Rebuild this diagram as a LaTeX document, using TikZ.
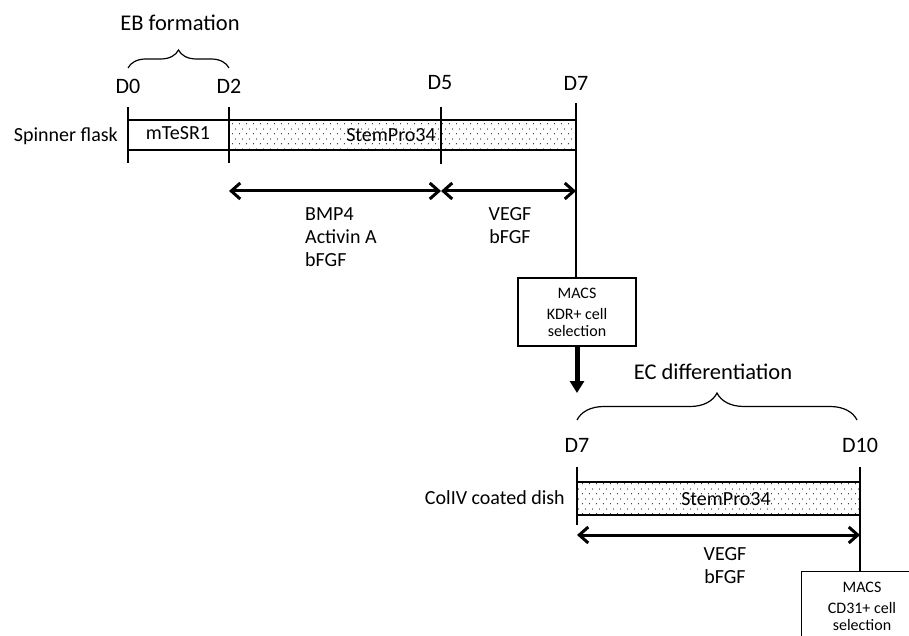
\documentclass[tikz,border=0pt]{standalone}
\usepackage{fontspec}
\setmainfont{Carlito}
\usetikzlibrary{arrows.meta,patterns.meta,decorations.pathreplacing}
\tikzdeclarepattern{
  name=sdots,
  type=uncolored,
  bounding box={(0pt,0pt) and (7pt,10pt)},
  tile size={(7pt,10pt)},
  code={\fill (1.75pt,2.5pt) circle (0.7pt); \fill (5.25pt,7.5pt) circle (0.7pt);}
}
\begin{document}
\begin{tikzpicture}[x=1pt,y=-1pt,
  lbl/.style={font=\fontsize{20}{23}\selectfont, inner sep=0pt},
  day/.style={font=\fontsize{22}{26}\selectfont, inner sep=0pt},
  ttl/.style={font=\fontsize{22.5}{27}\selectfont, inner sep=0pt},
  macs/.style={draw, line width=1.2pt, minimum width=118pt, minimum height=68pt, align=center, inner sep=0pt,
     font=\fontsize{16}{16.5}\selectfont},
  dbl/.style={line width=3pt, {Straight Barb[length=9pt,width=16pt]}-{Straight Barb[length=9pt,width=16pt]}},
  tick/.style={line width=1.2pt},
  bar/.style={draw, line width=1.5pt},
  dotted bar/.style={bar, pattern=sdots, pattern color=black!80},
  brc/.style={line width=1.2pt, decorate, decoration={brace, amplitude=#1}},
  down/.style={line width=5pt, -{Triangle[length=12pt,width=14pt]}}
]
\useasboundingbox (0,0) rectangle (909,636);
\clip (0,0) rectangle (909,636);

% ---------- EB formation ----------
\node[ttl] (eb) at (180,23) {EB formation};
\draw[brc=18pt] (128,68) -- (229,68);
\node[day] (d0) at (128,86) {D0};
\node[day] (d2) at (229,86) {D2};
\node[day] (d5) at (440,83) {D5};
\node[day] (d7) at (576,83) {D7};

\node[lbl, anchor=east] (spin) at (118,136) {Spinner flask};
\draw[bar] (128,120) rectangle (229,150);
\draw[dotted bar] (229,120) rectangle (576,150);
\node[lbl] (mt) at (178,133) {mTeSR1};
\node[lbl] (sp1) at (391,135) {StemPro34};

\draw[tick] (128,107) -- (128,163);
\draw[line width=2pt] (229,107) -- (229,163);
\draw[tick] (441,107) -- (441,164);

\draw[dbl] (229,191) -- (441,191);
\draw[dbl] (441,191) -- (576,191);
\node[lbl, anchor=west, align=left] (f1) at (305,237) {BMP4\\Activin A\\bFGF};
\node[lbl, align=center] (f2) at (510,226) {VEGF\\bFGF};

% ---------- MACS KDR ----------
\node[macs] (macsA) at (577,312) {MACS\\[5pt]KDR+ cell\\selection};
\coordinate (d7top) at (576,103);
\draw[tick] (d7top) -- (macsA.north -| d7top);
\coordinate (arrEnd) at (577,393);
\draw[down] (macsA.south) -- (arrEnd);

% ---------- EC differentiation ----------
\node[ttl] (ec) at (713,372) {EC differentiation};
\draw[brc=27pt] (577,420) -- (857,420);
\node[day] (e7) at (577,445) {D7};
\node[day] (e10) at (860,445) {D10};

\node[lbl, anchor=east] (coll) at (565,498) {ColIV coated dish};
\draw[dotted bar] (577,482) rectangle (860,515);
\node[lbl] (sp2) at (726,499) {StemPro34};
\draw[tick] (577,467) -- (577,525);

\draw[dbl] (577,535) -- (860,535);
\node[lbl, align=center] (f3) at (725,566) {VEGF\\bFGF};

\node[macs, minimum width=121pt, minimum height=69pt, anchor=north] (macsB) at (862,571) {MACS\\[5pt]CD31+ cell\\selection};
\coordinate (d10top) at (860,467);
\draw[tick] (d10top) -- (macsB.north -| d10top);
\end{tikzpicture}
\end{document}
